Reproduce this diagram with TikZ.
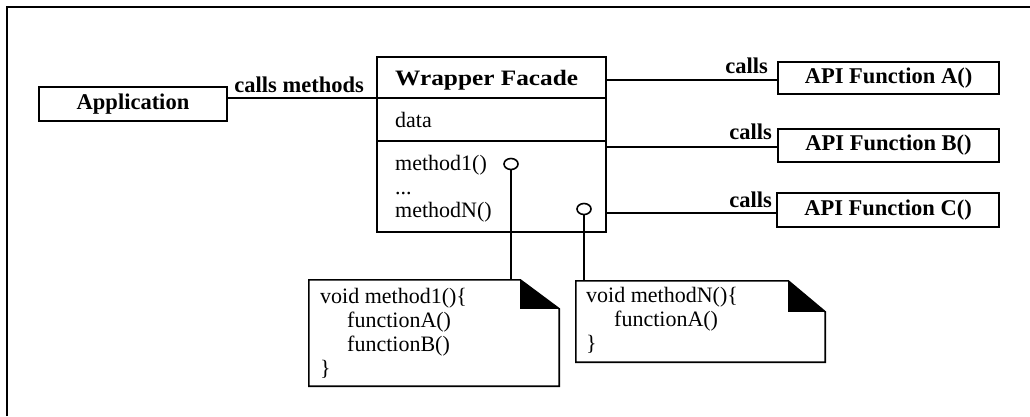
\documentclass[tikz,border=0pt]{standalone}
\usepackage{fontspec}
\setmainfont{Liberation Serif}
\newfontfamily\widefont{Liberation Serif}[FakeStretch=1.15]
\usetikzlibrary{shapes.geometric,calc}
\begin{document}
\begin{tikzpicture}[x=1pt,y=-1pt,
  every node/.style={font=\fontsize{22}{24}\selectfont, inner sep=0pt},
  box/.style={draw, line width=1.6pt, inner sep=0pt},
  lbl/.style={font=\fontsize{22.5}{24}\selectfont\bfseries},
  txt/.style={anchor=base west},
  wire/.style={line width=1.6pt},
  port/.style={draw, ellipse, line width=1.6pt, fill=white, inner sep=0pt, minimum width=14pt, minimum height=11pt},
]
\fill[white] (0,0) rectangle (1030,416);
\useasboundingbox (0,0) rectangle (1030,416);
% frame (left and top only)
\draw[line width=2pt] (7,416) -- (7,7) -- (1030,7);

% Application
\node[box, lbl, minimum width=188pt, minimum height=34pt] (app) at (133,104) {Application};

% Wrapper Facade class box
\node[box, minimum width=229pt, minimum height=175pt] (wf) at (491.5,144.5) {};
\draw[wire] (wf.west |- 0,98) -- (wf.east |- 0,98);
\draw[wire] (wf.west |- 0,141) -- (wf.east |- 0,141);
\node[anchor=base west, font=\widefont\fontsize{22}{24}\selectfont\bfseries] (wft) at (395,85) {Wrapper Facade};
\node[txt] (data) at (395,127) {data};
\node[txt] (m1) at (395,170) {method1()};
\node[txt] (dots) at (395,194) {...};
\node[txt] (mN) at (395,217) {methodN()};
\node[port] (p1) at (511,164) {};
\node[port] (p2) at (584,209) {};

% API functions
\node[box, lbl, minimum width=221pt, minimum height=32pt] (fa) at (888.5,78) {API Function A()};
\node[box, lbl, minimum width=221pt, minimum height=33pt] (fb) at (888.5,145.5) {API Function B()};
\node[box, lbl, minimum width=222pt, minimum height=34pt] (fc) at (888,210) {API Function C()};

% connectors
\draw[wire] (app.east |- 0,98) -- (wf.west |- 0,98);
\node[lbl, anchor=base east] (lm) at (364,92) {calls methods};
\draw[wire] (wf.east |- 0,80) -- (fa.west |- 0,80);
\node[lbl, anchor=base east] (la) at (768,73) {calls};
\draw[wire] (wf.east |- 0,147) -- (fb.west |- 0,147);
\node[lbl, anchor=base east] (lb) at (772,139) {calls};
\draw[wire] (wf.east |- 0,213) -- (fc.west |- 0,213);
\node[lbl, anchor=base east] (lc) at (772,207) {calls};

% note 1
\node[minimum width=250pt, minimum height=106pt] (n1) at (434,333) {};
\draw[line width=1.6pt] (n1.north west) -- ($(n1.north east)+(-39,0)$) -- ($(n1.north east)+(0,29)$) -- (n1.south east) -- (n1.south west) -- cycle;
\fill ($(n1.north east)+(-39,0)$) -- ($(n1.north east)+(-39,29)$) -- ($(n1.north east)+(0,29)$) -- cycle;
\node[txt] (n1a) at (320,303) {void method1()\{};
\node[txt] (n1b) at (347,327) {functionA()};
\node[txt] (n1c) at (347,351) {functionB()};
\node[txt] (n1d) at (320,375) {\}};

% note 2
\node[minimum width=249pt, minimum height=81pt] (n2) at (700.5,321.5) {};
\draw[line width=1.6pt] (n2.north west) -- ($(n2.north east)+(-37,0)$) -- ($(n2.north east)+(0,31)$) -- (n2.south east) -- (n2.south west) -- cycle;
\fill ($(n2.north east)+(-37,0)$) -- ($(n2.north east)+(-37,31)$) -- ($(n2.north east)+(0,31)$) -- cycle;
\node[txt] (n2a) at (586,302) {void methodN()\{};
\node[txt] (n2b) at (614,326) {functionA()};
\node[txt] (n2c) at (586,350) {\}};

% port to note links
\draw[wire] (p1.south) -- (p1.south |- n1.north);
\draw[wire] (p2.south) -- (p2.south |- n2.north);
\end{tikzpicture}
\end{document}
